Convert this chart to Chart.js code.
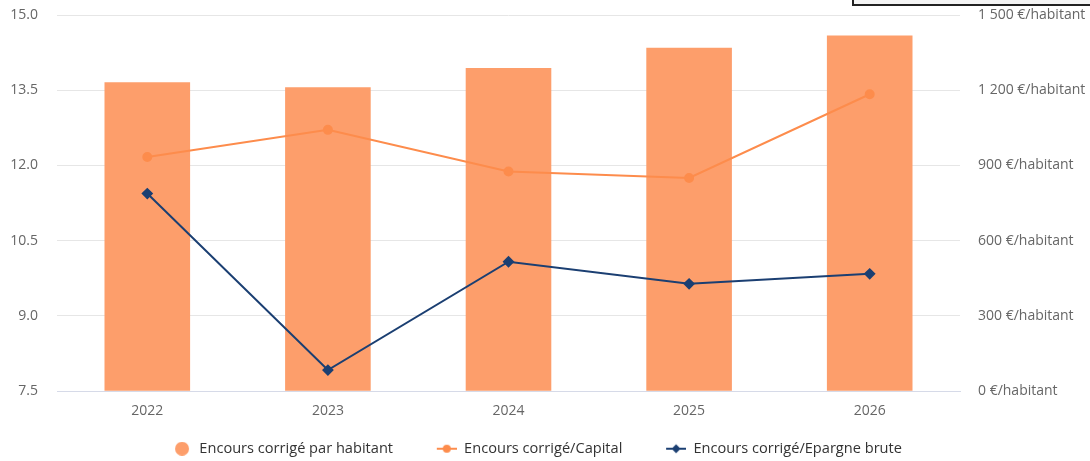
<!DOCTYPE html>
<html lang="fr">
<head>
<meta charset="utf-8">
<title>Encours corrigé</title>
<script src="https://cdn.jsdelivr.net/npm/chart.js@4.4.1/dist/chart.umd.min.js"></script>
<style>
  html, body { margin: 0; padding: 0; background: #fff; overflow: hidden; }
  #wrap { position: relative; width: 1090px; height: 461px; }
  #frame {
    position: absolute; left: 852px; top: -4px; width: 240px; height: 10px;
    border: 2px solid #222; background: #f4f4f4; box-sizing: border-box;
  }
</style>
</head>
<body>
<div id="wrap">
  <canvas id="chart" width="1090" height="461"></canvas>
  <div id="frame"></div>
</div>
<script>
const annees = ['2022', '2023', '2024', '2025', '2026'];
const encoursParHabitant = [1232, 1212, 1289, 1369, 1418];   // €/habitant
const encoursCapital = [12.17, 12.71, 11.88, 11.75, 13.42];
const encoursEpargne = [11.44, 7.92, 10.08, 9.64, 9.84];

const couleurBarre = '#fd9e6b';
const couleurCapital = '#fd8c4c';
const couleurEpargne = '#1b3f72';

// petits pictos de légende : pastille ou trait + marqueur
function picto(type, couleur) {
  const c = document.createElement('canvas');
  c.width = 40; c.height = 14;
  const g = c.getContext('2d');
  g.fillStyle = couleur;
  g.strokeStyle = couleur;
  if (type === 'rond') {
    g.beginPath();
    g.arc(30, 7, 7, 0, Math.PI * 2);
    g.fill();
  } else {
    g.lineWidth = 2;
    g.beginPath();
    g.moveTo(20, 7); g.lineTo(40, 7);
    g.stroke();
    g.beginPath();
    if (type === 'losange') {
      g.moveTo(30, 2.5); g.lineTo(34.5, 7); g.lineTo(30, 11.5); g.lineTo(25.5, 7);
      g.closePath();
    } else {
      g.arc(30, 7, 4, 0, Math.PI * 2);
    }
    g.fill();
  }
  return c;
}

const pictos = [
  picto('rond', couleurBarre),
  picto('rond-trait', couleurCapital),
  picto('losange', couleurEpargne)
];

function euros(v) {
  return String(v).replace(/\B(?=(\d{3})+(?!\d))/g, ' ') + ' €/habitant';
}

// légende : un peu moins haute et décalée vers la gauche
const legendeBasse = {
  id: 'legendeBasse',
  beforeInit(chart) {
    const fit = chart.legend.fit;
    chart.legend.fit = function () {
      fit.call(this);
      this.height -= 5;
    };
  },
  afterLayout(chart) {
    chart.legend.left -= 18;
    chart.legend.right -= 18;
  }
};

// axes verticaux : largeur fixe, pas de marge ajoutée en haut/bas
function axeFixe(largeur) {
  return scale => {
    scale.width = largeur;
    scale.paddingTop = 0;
    scale.paddingBottom = 0;
  };
}

const police = "'Open Sans', sans-serif";

new Chart(document.getElementById('chart'), {
  data: {
    labels: annees,
    datasets: [
      {
        type: 'bar',
        label: 'Encours corrigé par habitant',
        data: encoursParHabitant,
        yAxisID: 'y1',
        backgroundColor: couleurBarre,
        categoryPercentage: 1,
        barPercentage: 0.474,
        order: 3
      },
      {
        type: 'line',
        label: 'Encours corrigé/Capital',
        data: encoursCapital,
        yAxisID: 'y',
        borderColor: couleurCapital,
        backgroundColor: couleurCapital,
        borderWidth: 2,
        pointRadius: 4,
        pointStyle: 'circle',
        order: 2
      },
      {
        type: 'line',
        label: 'Encours corrigé/Epargne brute',
        data: encoursEpargne,
        yAxisID: 'y',
        borderColor: couleurEpargne,
        backgroundColor: couleurEpargne,
        borderWidth: 2,
        pointRadius: 4.5,
        pointStyle: 'rectRot',
        order: 1
      }
    ]
  },
  options: {
    responsive: false,
    animation: false,
    layout: { padding: { top: 15, left: 0, right: 0, bottom: 0 } },
    plugins: {
      tooltip: { enabled: false },
      legend: {
        position: 'bottom',
        labels: {
          usePointStyle: true,
          pointStyleWidth: 40,
          padding: 23.75,
          color: '#333',
          font: { family: police, size: 14.6 },
          generateLabels(chart) {
            return chart.data.datasets.map((ds, i) => ({
              text: ds.label,
              pointStyle: pictos[i],
              fillStyle: 'transparent',
              strokeStyle: 'transparent',
              lineWidth: 0,
              fontColor: '#333',
              datasetIndex: i,
              hidden: false
            }));
          }
        }
      }
    },
    scales: {
      x: {
        grid: { display: false, drawTicks: false },
        border: { display: true, color: '#d6dae8' },
        ticks: { color: '#666', padding: 11, font: { family: police, size: 14 } },
        afterFit(scale) { scale.height = 26.5; }
      },
      y: {
        position: 'left',
        min: 7.5,
        max: 15,
        grid: { color: '#e6e6e6', drawTicks: false },
        border: { display: false },
        ticks: {
          stepSize: 1.5,
          padding: 19,
          color: '#666',
          font: { family: police, size: 14 },
          callback: v => v.toFixed(1)
        },
        afterFit: axeFixe(57)
      },
      y1: {
        position: 'right',
        min: 0,
        max: 1500,
        grid: { drawOnChartArea: false, drawTicks: false },
        border: { display: false },
        ticks: {
          stepSize: 300,
          padding: 18,
          color: '#666',
          font: { family: police, size: 14 },
          callback: v => euros(v)
        },
        afterFit: axeFixe(130)
      }
    }
  },
  plugins: [legendeBasse]
});
</script>
</body>
</html>
